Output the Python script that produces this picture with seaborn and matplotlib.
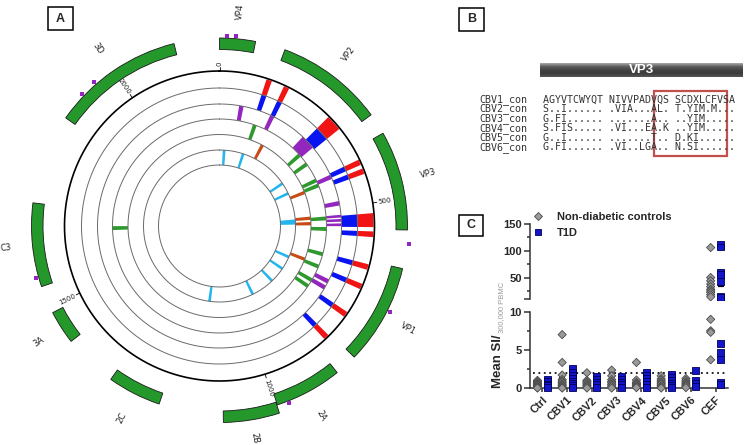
import numpy as np
import pandas as pd
import matplotlib
matplotlib.use("Agg")
import matplotlib.pyplot as plt
from matplotlib.patches import Rectangle
from matplotlib.lines import Line2D
from matplotlib.colors import LinearSegmentedColormap
import seaborn as sns

sns.set_theme(style="white")
plt.rcParams['font.family'] = ['Liberation Sans', 'DejaVu Sans']

W, H = 750, 445

# ---------------- panel A: polyprotein map (positions in aa)
genome_len = 2210
protein_names = ['VP4', 'VP2', 'VP3', 'VP1', '2A', '2B', '2C', '3A', 'C3', '3D']
protein_start = [0, 125, 371, 633, 867, 996, 1220, 1425, 1542, 1873]
protein_end = [68, 330, 560, 824, 995, 1098, 1322, 1489, 1701, 2124]
protein_layer = [0, 0, 0, 0, 0, 1, 0, 0, 0, 0]
site_pos = [14, 30, 586, 717, 974, 1561, 1927, 1958]
axis_ticks = [0, 500, 1000, 1500, 2000]

cyan_start = [15, 105, 337, 390, 522, 694, 756, 830, 939, 1145]
cyan_end = [28, 118, 350, 403, 546, 707, 769, 843, 952, 1158]
orange_start = [165, 414, 516, 537, 677]
orange_end = [178, 427, 529, 550, 690]
green_start = [112, 291, 329, 391, 409, 521, 556, 640, 683, 733, 756, 1644]
green_end = [125, 304, 342, 404, 422, 534, 569, 653, 696, 746, 769, 1657]
purple_start = [57, 151, 264, 400, 480, 520, 532, 545, 712, 732]
purple_end = [70, 164, 307, 413, 493, 528, 540, 553, 725, 745]
blue_start = [109, 152, 276, 396, 418, 523, 565, 641, 688, 761, 829]
blue_end = [122, 165, 313, 409, 431, 555, 578, 654, 701, 774, 842]
red_start = [109, 152, 276, 396, 418, 523, 565, 641, 688, 761, 829]
red_end = [122, 165, 313, 409, 431, 555, 578, 654, 701, 774, 842]

# ---------------- panel B: VP3 alignment
seq_names = ['CBV1_con', 'CBV2_con', 'CBV3_con', 'CBV4_con', 'CBV5_con', 'CBV6_con']
seq_rows = ['AGYVTCWYQT NIVVPADVQS SCDXLCFVSA',
            'S..I...... .VIA...AL. T.YIM.M...',
            'G.FI...... .......A.. ..YIM.....',
            'S.FIS..... .VI...EA.K ..YIM.....',
            'G..I...... .......T.. D.KI......',
            'G.FI...... .VI..LGA.. N.SI......']

# ---------------- panel C: mean SI per stimulus
stimuli = ['Ctrl', 'CBV1', 'CBV2', 'CBV3', 'CBV4', 'CBV5', 'CBV6', 'CEF']
nd_ctrl = [1.0, 0.85, 0.7, 0.6, 0.5, 0.4, 0.35, 0.25, 0.15, 0.05, 0.0]
nd_cbv1 = [7.0, 3.35, 1.7, 1.1, 0.9, 0.75, 0.55, 0.4, 0.3, 0.15, 0.05, 0.0]
nd_cbv2 = [2.0, 1.0, 0.85, 0.7, 0.55, 0.4, 0.3, 0.15, 0.0]
nd_cbv3 = [2.35, 1.6, 1.1, 0.85, 0.7, 0.5, 0.4, 0.2, 0.0]
nd_cbv4 = [3.35, 1.05, 0.75, 0.6, 0.45, 0.3, 0.15, 0.05]
nd_cbv5 = [1.6, 1.2, 1.0, 0.8, 0.65, 0.5, 0.3, 0.15, 0.0]
nd_cbv6 = [1.25, 1.0, 0.8, 0.65, 0.5, 0.35, 0.2, 0.05]
nd_cef = [106, 50, 44, 38, 33, 28, 25, 22, 18, 14, 9.0, 7.5, 7.3, 3.7]
t1d_ctrl = [1.1, 0.8, 0.5, 0.3, 0.1]
t1d_cbv1 = [2.5, 2.1, 1.7, 1.3, 0.9, 0.6, 0.3, 0.1]
t1d_cbv2 = [1.5, 1.1, 0.7, 0.4, 0.1]
t1d_cbv3 = [1.5, 1.1, 0.7, 0.4, 0.1]
t1d_cbv4 = [2.1, 1.7, 1.3, 0.9, 0.5, 0.1]
t1d_cbv5 = [1.8, 1.4, 1.0, 0.6, 0.3, 0.05]
t1d_cbv6 = [2.35, 1.0, 0.6, 0.15]
t1d_cef = [111, 107, 60, 55, 43, 15, 13, 5.8, 4.6, 3.7, 0.75, 0.4]
cutoff = 2
axis_break = 10

cohorts = ['Non-diabetic controls', 'T1D']
nd_values = [nd_ctrl, nd_cbv1, nd_cbv2, nd_cbv3, nd_cbv4, nd_cbv5, nd_cbv6, nd_cef]
t1d_values = [t1d_ctrl, t1d_cbv1, t1d_cbv2, t1d_cbv3, t1d_cbv4, t1d_cbv5, t1d_cbv6, t1d_cef]
rows = []
for cohort, groups in zip(cohorts, [nd_values, t1d_values]):
    for stim, vals in zip(stimuli, groups):
        rows += [(stim, cohort, v) for v in vals]
df = pd.DataFrame(rows, columns=['stim', 'cohort', 'si'])


def px(x0, y0, x1, y1):
    return [x0 / W, 1 - y1 / H, (x1 - x0) / W, (y1 - y0) / H]


def letter_box(fig, x0, y0, x1, y1, s):
    fig.add_artist(Rectangle((x0 / W, 1 - y1 / H), (x1 - x0) / W, (y1 - y0) / H,
                             transform=fig.transFigure, fill=False, ec='black', lw=1.1))
    fig.text((x0 + x1) / 2 / W, 1 - (y0 + y1) / 2 / H, s, ha='center', va='center',
             fontsize=9, fontweight='bold')


fig = plt.figure(figsize=(W / 100, H / 100), dpi=100)

# ================= panel A
R = 219
axA = fig.add_axes(px(219.5 - R, 226 - R, 219.5 + R, 226 + R), projection='polar')
axA.set_theta_zero_location('N')
axA.set_theta_direction(-1)
axA.set_ylim(0, R)
axA.set_axis_off()


def to_theta(p):
    return np.asarray(p, dtype=float) / genome_len * 2 * np.pi


ring_r = [61, 76, 91.5, 107, 122, 138]
full = np.linspace(0, 2 * np.pi, 500)
for r in ring_r:
    axA.plot(full, np.full_like(full, r), color='#6a6a6a', lw=0.7)
axA.plot(full, np.full_like(full, 155), color='black', lw=1.2)

tracks = [(cyan_start, cyan_end, '#22b5ee'),
          (orange_start, orange_end, '#c84a14'),
          (green_start, green_end, '#2e9a2e'),
          (purple_start, purple_end, '#9426c0'),
          (blue_start, blue_end, '#0a14f0'),
          (red_start, red_end, '#f01414')]
bands = [61, 76, 91.5, 107, 122, 138, 154]
for i, (st, en, col) in enumerate(tracks):
    t0 = to_theta(st)
    axA.bar(t0, bands[i + 1] - bands[i], width=to_theta(en) - t0, bottom=bands[i],
            align='edge', color=col, edgecolor='none', linewidth=0)

for name, st, en, lay in zip(protein_names, protein_start, protein_end, protein_layer):
    r0 = 176.5 + lay * 8.5
    axA.bar(to_theta(st), 11.5, width=to_theta(en) - to_theta(st), bottom=r0,
            align='edge', color='#24982a', edgecolor='#1a1a1a', linewidth=0.6)
    mid = np.degrees(to_theta((st + en) / 2))
    rot = 90 - mid
    if rot < -90:
        rot += 180
    axA.text(np.radians(mid), 215, name, rotation=rot, rotation_mode='anchor',
             ha='center', va='center', fontsize=6, color='#222',
             family=['DejaVu Sans'])

axA.scatter(to_theta(site_pos), np.full(len(site_pos), 190.5), marker='s', s=12,
            color='#9426c0', linewidths=0, zorder=5)

for p in axis_ticks:
    t = to_theta(p)
    axA.plot([t, t], [155, 159], color='black', lw=0.6)
    deg = np.degrees(t)
    rot = 90 - deg
    ha = 'left'
    if rot < -90:
        rot += 180
        ha = 'right'
    axA.text(t, 160, str(p), rotation=rot, rotation_mode='anchor', ha=ha, va='center',
             fontsize=5, color='#222', family=['DejaVu Sans'])

letter_box(fig, 48, 7, 73, 30, 'A')

# ================= panel B
letter_box(fig, 459, 8, 484, 31, 'B')
axB = fig.add_axes(px(540, 63, 743, 77))
grad = np.linspace(0, 1, 40).reshape(-1, 1)
bar_cmap = LinearSegmentedColormap.from_list('bar', ['#a8a8a8', '#5c5c5c', '#434343', '#3c3c3c', '#555555'])
axB.imshow(grad, aspect='auto', cmap=bar_cmap, extent=[0, 1, 0, 1])
axB.set_axis_off()
axB.text(0.5, 0.5, 'VP3', transform=axB.transAxes, ha='center', va='center',
         color='white', fontsize=9.5, fontweight='bold')

for i, (nm, sq) in enumerate(zip(seq_names, seq_rows)):
    y = 1 - (99.3 + i * 9.6) / H
    fig.text(479 / W, y, nm, ha='left', va='center', fontsize=7.2,
             family=['DejaVu Sans Mono'], color='#333')
    fig.text(543 / W, y, sq, ha='left', va='center', fontsize=7.2,
             family=['DejaVu Sans Mono'], color='#333')
fig.add_artist(Rectangle((654 / W, 1 - 156 / H), 73 / W, 65 / H, transform=fig.transFigure,
                         fill=False, ec='#c0504d', lw=1.6))

# ================= panel C (broken y axis)
letter_box(fig, 459, 215, 483, 236, 'C')
ax_hi = fig.add_axes(px(530, 224, 728, 301.1))
ax_lo = fig.add_axes(px(530, 311.7, 728, 392.6))

pal = {'Non-diabetic controls': '#9a9a9a', 'T1D': '#1414c8'}
edge = {'Non-diabetic controls': '#4a4a4a', 'T1D': '#00005a'}
marks = {'Non-diabetic controls': ('D', 4.2), 'T1D': ('s', 5.0)}

parts = [(ax_hi, df[df.si >= axis_break]), (ax_lo, df[df.si <= axis_break])]
for ax, sub in parts:
    sns.pointplot(data=df, x='stim', y='si', hue='cohort', hue_order=cohorts, order=stimuli,
                  dodge=0.4, estimator='mean', errorbar=None,
                  palette={c: 'black' for c in cohorts}, marker='_', linestyle='none',
                  markersize=5, markeredgewidth=1.6, legend=False, ax=ax, zorder=2)
    for c in cohorts:
        m, sz = marks[c]
        sns.stripplot(data=sub[sub.cohort == c], x='stim', y='si', hue='cohort',
                      hue_order=cohorts, order=stimuli, dodge=True, jitter=False,
                      palette=pal, marker=m, size=sz, edgecolor=edge[c], linewidth=0.6,
                      legend=False, ax=ax, zorder=3)
    ax.set_xlim(-0.5, 7.5)
    ax.set_xlabel('')
    ax.set_ylabel('')
    for s in ['top', 'right']:
        ax.spines[s].set_visible(False)
    ax.spines['left'].set_color('#333')
    ax.spines['left'].set_linewidth(1.1)
    ax.tick_params(axis='y', which='both', left=True, direction='out', color='#333',
                   width=1.1, pad=2, labelsize=8)
    ax.tick_params(axis='y', which='major', length=4)
    ax.tick_params(axis='y', which='minor', length=2.5)

ax_hi.set_ylim(6, 150)
ax_hi.spines['left'].set_bounds(axis_break, 150)
ax_hi.spines['bottom'].set_visible(False)
ax_hi.set_yticks([axis_break, 50, 100, 150])
ax_hi.set_yticklabels(['', '50', '100', '150'], fontweight='bold')
ax_hi.set_yticks([25, 75, 125], minor=True)
ax_hi.set_xticks([])

ax_lo.set_ylim(-0.6, axis_break)
ax_lo.spines['left'].set_bounds(0, axis_break)
ax_lo.spines['bottom'].set_position(('data', 0))
ax_lo.spines['bottom'].set_color('#333')
ax_lo.spines['bottom'].set_linewidth(1.1)
ax_lo.set_yticks([0, 5, 10])
ax_lo.set_yticklabels(['0', '5', '10'], fontweight='bold')
ax_lo.set_yticks([2.5, 7.5], minor=True)
ax_lo.set_xticks(range(len(stimuli)))
ax_lo.set_xticklabels(stimuli, rotation=45, ha='right', rotation_mode='anchor',
                      fontweight='bold', fontsize=8)
ax_lo.tick_params(axis='x', bottom=True, direction='out', length=3, width=1.1,
                  color='#333', pad=2)
ax_lo.axhline(cutoff, xmin=0.015, xmax=1, ls=(0, (1, 2)), color='#111', lw=1.3, zorder=1)

handles = [Line2D([], [], ls='none', marker='D', ms=4.2, mfc=pal[cohorts[0]],
                  mec=edge[cohorts[0]], mew=0.6),
           Line2D([], [], ls='none', marker='s', ms=5.0, mfc=pal[cohorts[1]],
                  mec=edge[cohorts[1]], mew=0.6)]
fig.legend(handles, cohorts, loc='upper left', bbox_to_anchor=(532.5 / W, 1 - 212 / H),
           frameon=False, borderpad=0, borderaxespad=0, handlelength=1.0,
           handletextpad=1.2, labelspacing=0.55, prop={'weight': 'bold', 'size': 8})

fig.text(501 / W, 1 - 388 / H, 'Mean SI/', rotation=90, rotation_mode='anchor',
         ha='left', va='baseline', fontsize=9.5, fontweight='bold')
fig.text(503 / W, 1 - 333 / H, '300,000 PBMC', rotation=90, rotation_mode='anchor',
         ha='left', va='baseline', fontsize=5.5, color='#9a9a9a')

fig.savefig('out.png', dpi=100)
